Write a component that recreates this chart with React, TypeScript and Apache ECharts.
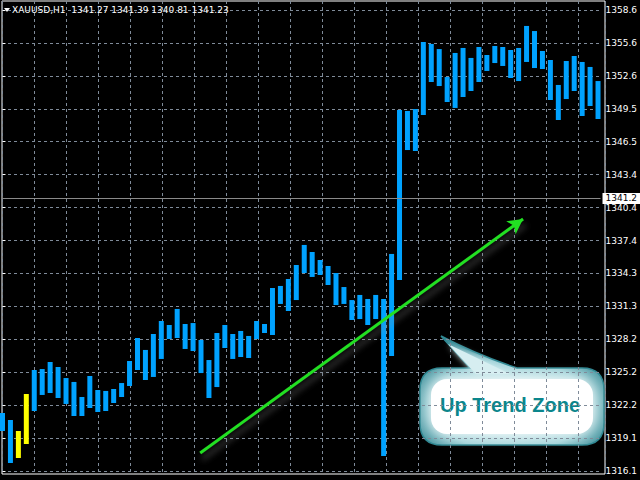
import React, { useEffect, useRef } from "react";
import * as echarts from "echarts";

// ---------- data ----------
const chartTitle = "XAUUSD,H1  1341.27 1341.39 1340.81 1341.23";
const barHigh = [
  1321.45, 1320.8, 1319.79, 1323.2, 1325.41, 1325.5, 1326.15, 1325.69, 1324.67, 1324.31,
  1322.92, 1324.86, 1323.57, 1323.48, 1323.66, 1324.21, 1326.24, 1328.36, 1327.26, 1328.73,
  1329.93, 1329.56, 1331.04, 1329.65, 1329.74, 1328.18, 1326.33, 1328.82, 1329.56, 1328.73,
  1329.01, 1328.55, 1329.93, 1329.65, 1332.97, 1333.16, 1333.8, 1335.09, 1336.94, 1336.29,
  1335.55, 1335.0, 1334.35, 1333.06, 1331.86, 1332.33, 1331.96, 1332.33, 1331.96, 1336.11,
  1349.38, 1349.29, 1349.47, 1355.65, 1355.47, 1355.0, 1352.42, 1354.64, 1355.1, 1354.18,
  1355.19, 1354.45, 1355.28, 1355.19, 1354.91, 1355.1, 1357.13, 1356.66, 1354.82, 1353.99,
  1351.69, 1353.9, 1354.36, 1353.81, 1353.35, 1352.05,
];
const barLow = [
  1319.79, 1316.84, 1317.3, 1318.59, 1321.63, 1323.11, 1323.29, 1322.83, 1322.28, 1321.17,
  1321.17, 1321.91, 1321.54, 1321.63, 1322.37, 1322.92, 1323.94, 1325.41, 1324.49, 1324.77,
  1326.43, 1328.27, 1328.36, 1327.35, 1327.16, 1325.13, 1322.83, 1323.84, 1327.44, 1326.43,
  1326.61, 1326.52, 1328.27, 1328.82, 1328.64, 1331.5, 1330.85, 1331.86, 1334.35, 1333.99,
  1334.17, 1333.25, 1331.4, 1331.5, 1330.02, 1330.11, 1329.56, 1330.11, 1317.48, 1326.7,
  1333.71, 1345.69, 1345.6, 1348.92, 1351.96, 1351.59, 1350.12, 1349.57, 1350.58, 1351.13,
  1351.96, 1352.98, 1353.71, 1353.44, 1352.33, 1352.05, 1353.81, 1353.25, 1353.16, 1350.3,
  1348.46, 1350.39, 1351.13, 1348.83, 1349.75, 1348.55,
];
const yellowBars = [2, 3];
const priceTickLabels = [
  "1316.1", "1319.1", "1322.2", "1325.2", "1328.2", "1331.3", "1334.3", "1337.4",
  "1340.4", "1343.4", "1346.5", "1349.5", "1352.6", "1355.6", "1358.6",
];
const lastClose = 1341.23;
const trendStart = [24.9, 1317.76];
const trendEnd = [65.56, 1339.33];
const calloutText = "Up Trend Zone";

// ---------- styles ----------
const BLUE = "#00a2ff";
const YELLOW = "#ffff00";
const GRID_COLOR = "#7f8b99";
const AXIS_FONT = "DejaVu Sans";

const axisMin = parseFloat(priceTickLabels[0]);
const axisMax = parseFloat(priceTickLabels[priceTickLabels.length - 1]);
const axisInterval = (axisMax - axisMin) / (priceTickLabels.length - 1);
const xMin = -0.0625;
const xMax = 75.3125;

const bubblePath =
  "M22 32 L50 32 L21 0 Q55 18 97 32 L162 32 Q184 32 184 54 L184 87 Q184 109 162 109 L22 109 Q0 109 0 87 L0 54 Q0 32 22 32 Z";
echarts.graphic.registerShape("bubble", echarts.graphic.extendPath(bubblePath, {}));

export default function App() {
  const ref = useRef<HTMLDivElement>(null);

  useEffect(() => {
    document.body.style.margin = "0";
    document.body.style.background = "#000";
    const chart = echarts.init(ref.current!, null, { renderer: "svg" });

    const data = barHigh.map((h, i) => [i, h, barLow[i], yellowBars.includes(i) ? 1 : 0]);

    chart.setOption({
      animation: false,
      backgroundColor: "#000",
      title: {
        text: chartTitle,
        left: 12,
        top: 5,
        padding: 0,
        textStyle: { color: "#fff", fontSize: 9, fontWeight: "normal", fontFamily: AXIS_FONT },
      },
      grid: [
        { left: 2, right: 35, top: 1, bottom: 6, show: true, borderColor: "#fff", borderWidth: 1, backgroundColor: "transparent" },
        { left: 2, right: 35, top: 10, bottom: 9 },
      ],
      xAxis: [
        {
          gridIndex: 0,
          type: "value",
          min: xMin,
          max: xMax,
          interval: 4,
          axisLine: { show: false },
          axisTick: { show: false },
          axisLabel: { show: false },
          splitLine: { show: true, lineStyle: { color: GRID_COLOR, type: [3, 3], width: 1 } },
        },
        { gridIndex: 1, type: "value", min: xMin, max: xMax, show: false },
      ],
      yAxis: [
        { gridIndex: 0, type: "value", min: 0, max: 1, show: false },
        {
          gridIndex: 1,
          type: "value",
          position: "right",
          min: axisMin,
          max: axisMax,
          interval: axisInterval,
          axisLine: { show: false },
          axisTick: { show: true, length: 3, lineStyle: { color: "#fff" } },
          axisLabel: {
            color: "#fff",
            fontSize: 9,
            fontFamily: AXIS_FONT,
            margin: 5,
            formatter: (v: number) => priceTickLabels[Math.round((v - axisMin) / axisInterval)] ?? "",
          },
          splitLine: { show: true, lineStyle: { color: GRID_COLOR, type: [3, 3], width: 1 } },
        },
      ],
      series: [
        {
          type: "custom",
          xAxisIndex: 1,
          yAxisIndex: 1,
          silent: true,
          data,
          encode: { x: 0, y: [1, 2] },
          renderItem: (params: any, api: any) => {
            const k = api.value(0);
            const top = api.coord([k, api.value(1)]);
            const bot = api.coord([k, api.value(2)]);
            return {
              type: "rect",
              shape: { x: top[0] - 2.5, y: top[1], width: 5, height: bot[1] - top[1] },
              style: { fill: api.value(3) ? YELLOW : BLUE },
            };
          },
          markLine: {
            silent: true,
            animation: false,
            symbol: "none",
            data: [
              {
                yAxis: lastClose,
                lineStyle: { color: "#8a8a8a", type: "solid", width: 1 },
                label: {
                  show: true,
                  position: "end",
                  distance: 2,
                  formatter: lastClose.toFixed(1),
                  backgroundColor: "#fff",
                  color: "#000",
                  padding: [1, 4, 1, 3],
                  fontSize: 9,
                  fontFamily: AXIS_FONT,
                },
              },
              [
                {
                  coord: trendStart,
                  symbol: "none",
                  lineStyle: {
                    color: "#22e022",
                    width: 3,
                    type: "solid",
                    shadowColor: "rgba(140,140,140,0.5)",
                    shadowBlur: 6,
                    shadowOffsetX: 2,
                    shadowOffsetY: 6,
                  },
                  label: { show: false },
                },
                { coord: trendEnd, symbol: "arrow", symbolSize: [12, 15] },
              ],
            ],
          },
        },
      ],
      graphic: [
        { type: "polygon", shape: { points: [[4, 8], [10, 8], [7, 12]] }, style: { fill: "#fff" } },
        {
          type: "group",
          x: 420,
          y: 336,
          children: [
            {
              type: "bubble",
              style: {
                fill: {
                  type: "radial",
                  x: 0.5,
                  y: 0.64,
                  r: 0.6,
                  colorStops: [
                    { offset: 0, color: "#eaf8f9" },
                    { offset: 0.7, color: "#a2d3d9" },
                    { offset: 1, color: "#3a8b96" },
                  ],
                },
                stroke: "#2f8893",
                lineWidth: 1.5,
              },
            },
            {
              type: "rect",
              shape: { x: 11, y: 43, width: 162, height: 55, r: 16 },
              style: { fill: "#ffffff", shadowBlur: 14, shadowColor: "#ffffff" },
            },
            {
              type: "polygon",
              shape: { points: [[28, 8], [56, 38], [90, 38]] },
              style: { fill: "#d6eef1", shadowBlur: 6, shadowColor: "#d6eef1" },
            },
          ],
        },
        {
          type: "text",
          x: 510,
          y: 405,
          style: {
            text: calloutText,
            fill: "#0b868c",
            font: 'bold 20px "Liberation Sans"',
            align: "center",
            verticalAlign: "middle",
          },
        },
      ],
    });

    return () => chart.dispose();
  }, []);

  return (
    <div
      ref={ref}
      style={{ position: "fixed", left: 0, top: 0, width: 640, height: 480, background: "#000" }}
    />
  );
}
